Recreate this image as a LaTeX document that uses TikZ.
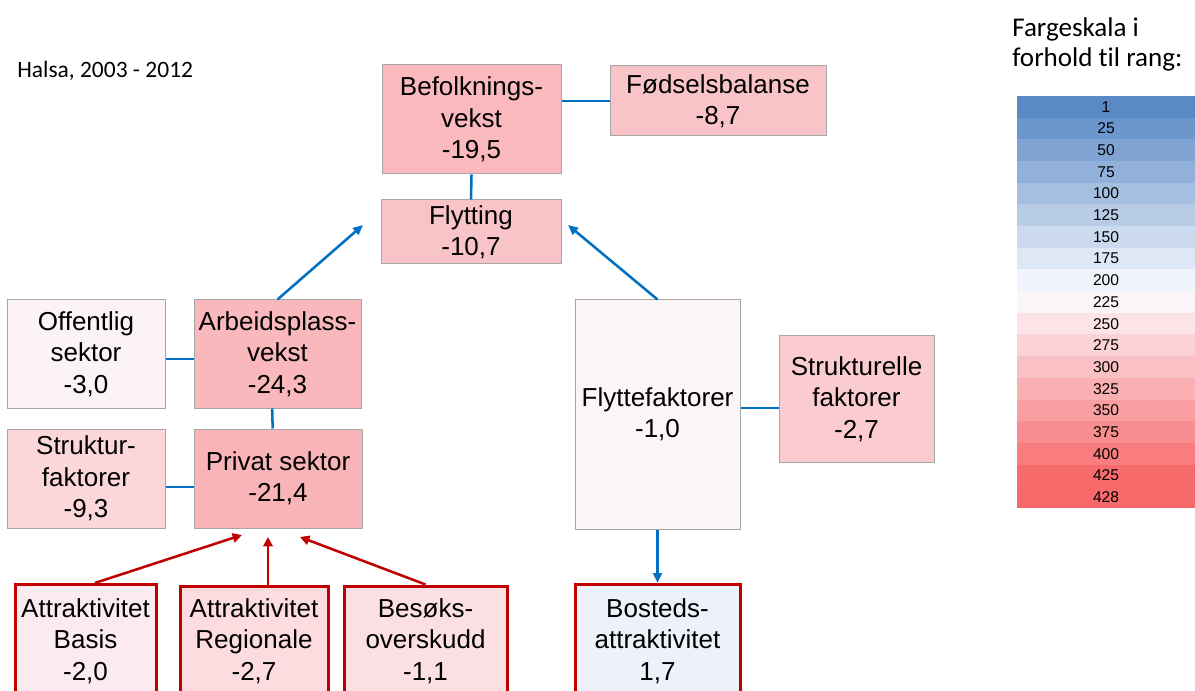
\documentclass[tikz,border=0pt]{standalone}
\usepackage{fontspec}
\setmainfont{Liberation Sans}
\newfontfamily\calibri[Ligatures=NoCommon]{Carlito}
\usetikzlibrary{arrows.meta}
\definecolor{linkblue}{HTML}{0070C0}
\definecolor{attred}{HTML}{C00000}
\definecolor{boxgray}{HTML}{A6A6A6}
\definecolor{scblue}{HTML}{5A8AC6}
\definecolor{scwhite}{HTML}{FCFCFF}
\definecolor{scred}{HTML}{F8696B}
\begin{document}
\begin{tikzpicture}[x=0.75pt,y=-0.75pt,
    box/.style={draw=boxgray,line width=0.75pt,align=center,inner sep=0pt,font=\fontsize{19.5}{23.5}\selectfont},
    attbox/.style={box,draw=attred,line width=2.25pt},
    sz/.style 2 args={minimum width=#1*0.75pt,minimum height=#2*0.75pt},
    link/.style={draw=linkblue,line width=1.9pt},
    linkarrow/.style={link,-{Triangle[length=7.5pt,width=6.5pt]}},
    attarrow/.style={draw=attred,line width=1.9pt,-{Triangle[length=7pt,width=7pt]}}]
  \useasboundingbox (0,0) rectangle (1195,691);
  %titles
  \node[anchor=base west,inner sep=0pt,font=\calibri\fontsize{17.6}{21}\selectfont] (place) at (17,78) {Halsa, 2003 - 2012};
  \node[anchor=base west,inner sep=0pt,font=\calibri\fontsize{20.3}{22.5}\selectfont] (scaletitle) at (1012,37) {Fargeskala i};
  \node[anchor=base west,inner sep=0pt,font=\calibri\fontsize{20.3}{22.5}\selectfont] (scaletitleb) at (1012,67) {forhold til rang:};
  %top
  \node[box,sz={179}{109},fill={rgb,255:red,249;green,185;blue,189}] (bef) at (471.5,119.5) {Befolknings-\\vekst\\-19,5};
  \node[box,sz={216}{70},fill={rgb,255:red,249;green,196;blue,199}] (fod) at (718,101) {Fødselsbalanse\\-8,7};
  \node[box,sz={180}{64},fill={rgb,255:red,249;green,196;blue,200}] (fly) at (471,232) {Flytting\\-10,7};
  \draw[link] (fod.west) -- (fod.west -| bef.east);
  \draw[link] (bef.south) -- (fly.north);
  %left
  \node[box,sz={158}{108},fill={rgb,255:red,251;green,243;blue,246}] (off) at (86,354) {Offentlig\\sektor\\-3,0};
  \node[box,sz={167}{108},fill={rgb,255:red,249;green,184;blue,187}] (arb) at (277.5,354) {Arbeidsplass-\\vekst\\-24,3};
  \node[box,sz={158}{99},fill={rgb,255:red,251;green,215;blue,218}] (stf) at (86,478.5) {Struktur-\\faktorer\\-9,3};
  \node[box,sz={168}{99},fill={rgb,255:red,249;green,180;blue,183}] (pri) at (278,478.5) {Privat sektor\\-21,4};
  \draw[link] ([yshift=-3.75pt]off.east) -- ([yshift=-3.75pt]arb.west);
  \draw[link] ([xshift=-4pt]arb.south) -- ([xshift=-4pt]pri.north);
  \draw[link] ([yshift=-6.4pt]stf.east) -- ([yshift=-6.4pt]pri.west);
  \coordinate (flyL) at (363,225);
  \draw[linkarrow] (arb.north) -- (flyL);
  %right
  \node[box,sz={165}{229},fill={rgb,255:red,251;green,245;blue,248}] (flf) at (657.5,414.5) {Flyttefaktorer\\-1,0};
  \node[box,sz={155}{126},fill={rgb,255:red,250;green,204;blue,207}] (stu) at (856.5,399) {Strukturelle\\faktorer\\-2,7};
  \draw[link] ([yshift=-6.75pt]stu.west) -- ([yshift=-6.75pt]stu.west -| flf.east);
  \coordinate (flyR) at (568,225);
  \draw[linkarrow] (flf.north) -- (flyR);
  %bottom
  \node[attbox,sz={141}{113},fill={rgb,255:red,252;green,235;blue,238}] (atb) at (85.5,641) {Attraktivitet\\Basis\\-2,0};
  \node[attbox,sz={148}{110},fill={rgb,255:red,252;green,220;blue,223}] (atr) at (254,641) {Attraktivitet\\Regionale\\-2,7};
  \node[attbox,sz={163}{110},fill={rgb,255:red,252;green,223;blue,226}] (bes) at (425.5,641) {Besøks-\\overskudd\\-1,1};
  \node[attbox,sz={165}{113},fill={rgb,255:red,237;green,241;blue,250}] (bos) at (657.5,641) {Bosteds-\\attraktivitet\\1,7};
  \draw[linkarrow] (flf.south) -- (bos.north);
  \coordinate (priL) at (242,535);
  \coordinate (priM) at (268,537);
  \coordinate (priR) at (300,537);
  \draw[attarrow] ([xshift=7pt]atb.north) -- (priL);
  \draw[attarrow] (atr.north -| priM) -- (priM);
  \draw[attarrow] (bes.north) -- (priR);
  %scale
  \foreach \r [count=\i from 0] in {1,25,50,75,100,125,150,175,200,225,250,275,300,325,350,375,400,425,428} {
    \pgfmathsetmacro\pb{max(0,(214.5-\r)/213.5*100)}
    \pgfmathsetmacro\pr{max(0,(\r-214.5)/213.5*100)}
    \colorlet{rowb}{scblue!\pb!scwhite}
    \colorlet{rowc}{scred!\pr!rowb}
    \fill[rowc] (1017,96+\i*21.68) rectangle (1195,96+\i*21.68+21.68);
    \node[inner sep=0pt,font=\fontsize{11.7}{13}\selectfont] (rank\i) at (1106,96+\i*21.68+10.84) {\r};
  }
\end{tikzpicture}
\end{document}
